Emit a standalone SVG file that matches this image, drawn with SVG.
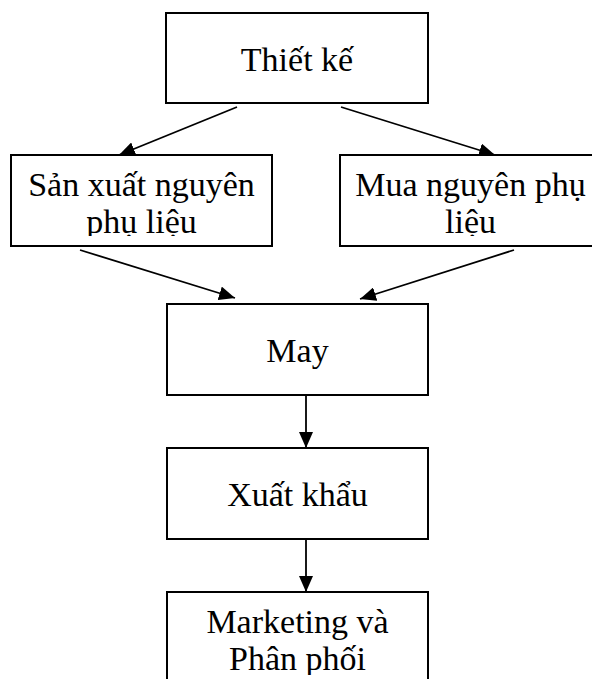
<svg xmlns="http://www.w3.org/2000/svg" width="592" height="679" viewBox="0 0 592 679">
  <style>
    .box { fill: #ffffff; stroke: #000000; stroke-width: 2; }
    .lbl { font-family: "Liberation Serif", "Times New Roman", serif; font-size: 34px; fill: #000000; text-anchor: middle; }
    .edge { stroke: #000000; stroke-width: 1.8; fill: none; marker-end: url(#arrow); }
  </style>
  <defs>
    <marker id="arrow" viewBox="0 0 16 14" refX="16" refY="7" markerWidth="16" markerHeight="14" markerUnits="userSpaceOnUse" orient="auto">
      <path d="M0,0 L16,7 L0,14 z" fill="#000000"/>
    </marker>
    <!-- inner text areas of the boxes whose second line is cut off -->
    <clipPath id="clip-sx"><rect x="11" y="160" width="261" height="76"/></clipPath>
    <clipPath id="clip-mua"><rect x="340" y="160" width="261" height="76"/></clipPath>
    <clipPath id="clip-mkt"><rect x="167" y="597" width="261" height="78"/></clipPath>
  </defs>

  <rect width="592" height="679" fill="#ffffff"/>

  <g id="connectors">
    <line class="edge" x1="237" y1="107" x2="119" y2="155"/>
    <line class="edge" x1="341" y1="107" x2="495" y2="155"/>
    <line class="edge" x1="80" y1="250" x2="235" y2="298"/>
    <line class="edge" x1="514" y1="250" x2="360" y2="299"/>
    <line class="edge" x1="306" y1="395" x2="306" y2="448"/>
    <line class="edge" x1="306" y1="539" x2="306" y2="592"/>
  </g>

  <g id="thiet-ke">
    <rect class="box" x="166" y="13" width="262" height="90"/>
    <text class="lbl" x="297" y="71">Thiết kế</text>
  </g>

  <g id="san-xuat">
    <rect class="box" x="11" y="155" width="261" height="91"/>
    <g clip-path="url(#clip-sx)">
      <text class="lbl" x="141.5" y="196">Sản xuất nguyên</text>
      <text class="lbl" x="141.5" y="233">phụ liệu</text>
    </g>
  </g>

  <g id="mua">
    <rect class="box" x="340" y="155" width="261" height="91"/>
    <g clip-path="url(#clip-mua)">
      <text class="lbl" x="470.5" y="196">Mua nguyên phụ</text>
      <text class="lbl" x="470.5" y="233">liệu</text>
    </g>
  </g>

  <g id="may">
    <rect class="box" x="167" y="304" width="261" height="91"/>
    <text class="lbl" x="297.5" y="361.5">May</text>
  </g>

  <g id="xuat-khau">
    <rect class="box" x="167" y="448" width="261" height="91"/>
    <text class="lbl" x="297.5" y="506">Xuất khẩu</text>
  </g>

  <g id="marketing">
    <rect class="box" x="167" y="592" width="261" height="100"/>
    <g clip-path="url(#clip-mkt)">
      <text class="lbl" x="297.5" y="633">Marketing và</text>
      <text class="lbl" x="297.5" y="670">Phân phối</text>
    </g>
  </g>
</svg>
